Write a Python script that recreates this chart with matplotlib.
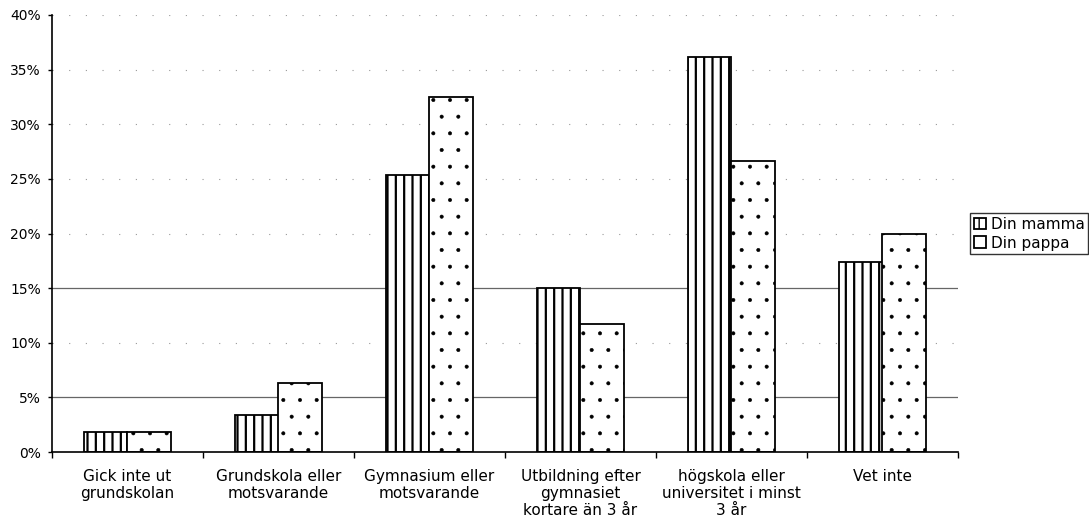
import numpy as np
import matplotlib
matplotlib.use('Agg')
import matplotlib.pyplot as plt
from matplotlib.ticker import FuncFormatter, FixedLocator

categories = ['Gick inte ut\ngrundskolan', 'Grundskola eller\nmotsvarande',
              'Gymnasium eller\nmotsvarande', 'Utbildning efter\ngymnasiet\nkortare än 3 år',
              'högskola eller\nuniversitet i minst\n3 år', 'Vet inte']
mamma = [1.8, 3.4, 25.4, 15.0, 36.2, 17.4]
pappa = [1.8, 6.3, 32.5, 11.7, 26.6, 20.0]
series_names = ['Din mamma', 'Din pappa']
y_ticks = [0, 5, 10, 15, 20, 25, 30, 35, 40]

plt.rcParams['font.family'] = ['DejaVu Sans']
plt.rcParams['hatch.color'] = 'black'

fig = plt.figure(figsize=(10.89, 5.27), dpi=100)
ax = fig.add_axes([52/1089, 1 - 452/527, 906/1089, 437/527])

x = np.arange(len(categories))
w = 0.29

# gridlines: sparse dotted everywhere, solid grey at 5 and 15 like the scan
for t in y_ticks[1:]:
    if t in (5, 15):
        ax.axhline(t, color='#666666', lw=0.9, zorder=0)
    else:
        ax.axhline(t, color='#999999', lw=0.8, ls=(0, (1, 14)), zorder=0)

with plt.rc_context({'hatch.linewidth': 1.6}):
    b1 = ax.bar(x - w/2, mamma, w, color='white', edgecolor='black', lw=1.3,
                hatch='||', label=series_names[0], zorder=2)
with plt.rc_context({'hatch.linewidth': 0.4}):
    b2 = ax.bar(x + w/2, pappa, w, color='white', edgecolor='black', lw=1.3,
                hatch='.', label=series_names[1], zorder=2)
for p in b1:
    if hasattr(p, 'set_hatch_linewidth'):
        p.set_hatch_linewidth(1.6)
for p in b2:
    if hasattr(p, 'set_hatch_linewidth'):
        p.set_hatch_linewidth(0.4)

ax.set_xlim(-0.5, len(categories) - 0.5)
ax.set_ylim(0, 40)
ax.set_yticks(y_ticks)
ax.yaxis.set_major_formatter(FuncFormatter(lambda v, p: f'{v:.0f}%'))
ax.tick_params(axis='y', labelsize=10, length=3, width=1, pad=5, direction='out')

# ticks at category boundaries, labels at centers
ax.xaxis.set_major_locator(FixedLocator(np.arange(len(categories) + 1) - 0.5))
ax.xaxis.set_minor_locator(FixedLocator(x))
ax.set_xticklabels([''] * (len(categories) + 1))
ax.set_xticks(x, categories, minor=True)
ax.tick_params(axis='x', which='major', length=4, width=1, direction='out')
ax.tick_params(axis='x', which='minor', length=0, labelsize=11, pad=12)

ax.spines['top'].set_visible(False)
ax.spines['right'].set_visible(False)
ax.spines['left'].set_linewidth(1.2)
ax.spines['bottom'].set_linewidth(1.2)

leg = ax.legend(loc='upper left', bbox_to_anchor=(970/1089, 1 - 213/527),
                bbox_transform=fig.transFigure, fontsize=11, frameon=True,
                fancybox=False, edgecolor='black', handlelength=0.8,
                handleheight=0.8, handletextpad=0.3, borderpad=0.25,
                labelspacing=0.25, borderaxespad=0)
leg.get_frame().set_linewidth(1.0)

fig.savefig('out.png', dpi=100)
